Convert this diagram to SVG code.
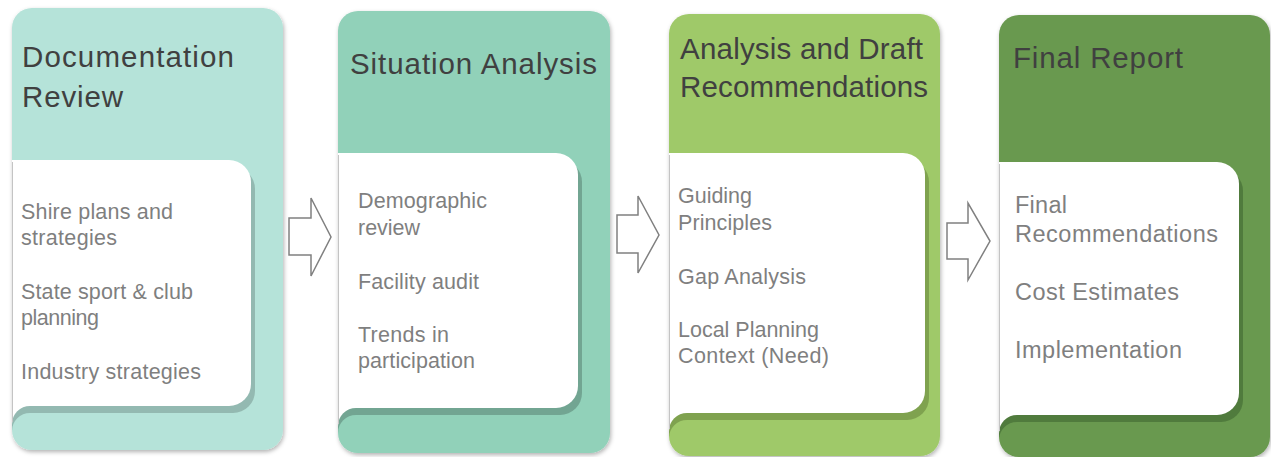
<svg xmlns="http://www.w3.org/2000/svg" width="1271" height="457" viewBox="0 0 1271 457">
  <defs>
    <filter id="soft" x="-10%" y="-10%" width="120%" height="120%">
      <feDropShadow dx="1" dy="2" stdDeviation="2" flood-color="#000" flood-opacity="0.3"/>
    </filter>
  </defs>
  <style>
    .title { font-family: "Liberation Sans", Arial, sans-serif; font-size: 29.5px; fill: #404040; }
    .item { font-family: "Liberation Sans", Arial, sans-serif; font-size: 21.5px; fill: #7f7f7f; }
    .item4 { font-family: "Liberation Sans", Arial, sans-serif; font-size: 23.5px; fill: #7f7f7f; }
    .card { fill: #ffffff; }
    .edge { stroke: #c4c4c4; stroke-width: 1; }
    .arrow { fill: #ffffff; stroke: #808080; stroke-width: 1.5; stroke-linejoin: miter; }
  </style>

  <rect width="1271" height="457" fill="#ffffff"/>

  <!-- Step 1 -->
  <g id="documentation-review">
    <rect x="12" y="8" width="271" height="442" rx="20" fill="#b5e3d9" filter="url(#soft)"/>
    <path d="M16,167 H233 A22,22 0 0 1 255,189 V391 A22,22 0 0 1 233,413 H16 Z" fill="#93b9b1"/>
    <rect x="12" y="398" width="30" height="26" class="card"/>
    <path d="M12,160 H229 A22,22 0 0 1 251,182 V384 A22,22 0 0 1 229,406 H12 Z" class="card"/>
    <path d="M12,424 A18,18 0 0 1 30,406 H220 V430 H12 Z" fill="#93b9b1"/>
    <path d="M12,431 A18,18 0 0 1 30,413 H250 V430 H12 Z" fill="#b5e3d9"/>
    <line x1="12.5" y1="162" x2="12.5" y2="422" class="edge"/>
    <text class="title" x="22" y="67" textLength="212" lengthAdjust="spacing">Documentation</text>
    <text class="title" x="22" y="107" textLength="101" lengthAdjust="spacing">Review</text>
    <text class="item" x="21" y="219" textLength="152" lengthAdjust="spacing">Shire plans and</text>
    <text class="item" x="21" y="245" textLength="96" lengthAdjust="spacing">strategies</text>
    <text class="item" x="21" y="299" textLength="172" lengthAdjust="spacing">State sport &amp; club</text>
    <text class="item" x="21" y="325" textLength="78" lengthAdjust="spacing">planning</text>
    <text class="item" x="21" y="379" textLength="180" lengthAdjust="spacing">Industry strategies</text>
  </g>

  <!-- Step 2 -->
  <g id="situation-analysis">
    <rect x="338" y="11" width="272" height="442" rx="20" fill="#91d1b9" filter="url(#soft)"/>
    <path d="M342,160 H560 A22,22 0 0 1 582,182 V393 A22,22 0 0 1 560,415 H342 Z" fill="#72a592"/>
    <rect x="338" y="400" width="30" height="26" class="card"/>
    <path d="M338,153 H556 A22,22 0 0 1 578,175 V386 A22,22 0 0 1 556,408 H338 Z" class="card"/>
    <path d="M338,426 A18,18 0 0 1 356,408 H546 V433 H338 Z" fill="#72a592"/>
    <path d="M338,433 A18,18 0 0 1 356,415 H577 V433 H338 Z" fill="#91d1b9"/>
    <line x1="338.5" y1="155" x2="338.5" y2="424" class="edge"/>
    <text class="title" x="350" y="74" textLength="247" lengthAdjust="spacing">Situation Analysis</text>
    <text class="item" x="358" y="208" textLength="129" lengthAdjust="spacing">Demographic</text>
    <text class="item" x="358" y="235" textLength="62" lengthAdjust="spacing">review</text>
    <text class="item" x="358" y="289" textLength="121" lengthAdjust="spacing">Facility audit</text>
    <text class="item" x="358" y="342" textLength="91" lengthAdjust="spacing">Trends in</text>
    <text class="item" x="358" y="368" textLength="117" lengthAdjust="spacing">participation</text>
  </g>

  <!-- Step 3 -->
  <g id="analysis-draft">
    <rect x="669" y="14" width="271" height="442" rx="20" fill="#9fc969" filter="url(#soft)"/>
    <path d="M673,160 H907 A22,22 0 0 1 929,182 V398 A22,22 0 0 1 907,420 H673 Z" fill="#7fa24f"/>
    <rect x="669" y="405" width="30" height="26" class="card"/>
    <path d="M669,153 H903 A22,22 0 0 1 925,175 V391 A22,22 0 0 1 903,413 H669 Z" class="card"/>
    <path d="M669,431 A18,18 0 0 1 687,413 H893 V436 H669 Z" fill="#7fa24f"/>
    <path d="M669,438 A18,18 0 0 1 687,420 H924 V436 H669 Z" fill="#9fc969"/>
    <line x1="669.5" y1="155" x2="669.5" y2="429" class="edge"/>
    <text class="title" x="680" y="59" textLength="243" lengthAdjust="spacing">Analysis and Draft</text>
    <text class="title" x="680" y="97" textLength="248" lengthAdjust="spacing">Recommendations</text>
    <text class="item" x="678" y="203" textLength="74" lengthAdjust="spacing">Guiding</text>
    <text class="item" x="678" y="230" textLength="94" lengthAdjust="spacing">Principles</text>
    <text class="item" x="678" y="284" textLength="128" lengthAdjust="spacing">Gap Analysis</text>
    <text class="item" x="678" y="337" textLength="141" lengthAdjust="spacing">Local Planning</text>
    <text class="item" x="678" y="363" textLength="151" lengthAdjust="spacing">Context (Need)</text>
  </g>

  <!-- Step 4 -->
  <g id="final-report">
    <rect x="999" y="15" width="271" height="442" rx="20" fill="#69994f" filter="url(#soft)"/>
    <path d="M1003,169 H1221 A22,22 0 0 1 1243,191 V400 A22,22 0 0 1 1221,422 H1003 Z" fill="#507b3d"/>
    <rect x="999" y="407" width="30" height="26" class="card"/>
    <path d="M999,162 H1217 A22,22 0 0 1 1239,184 V393 A22,22 0 0 1 1217,415 H999 Z" class="card"/>
    <path d="M999,433 A18,18 0 0 1 1017,415 H1207 V437 H999 Z" fill="#507b3d"/>
    <path d="M999,440 A18,18 0 0 1 1017,422 H1238 V437 H999 Z" fill="#69994f"/>
    <line x1="999.5" y1="164" x2="999.5" y2="431" class="edge"/>
    <text class="title" x="1013" y="68" textLength="170" lengthAdjust="spacing">Final Report</text>
    <text class="item4" x="1015" y="213" textLength="52" lengthAdjust="spacing">Final</text>
    <text class="item4" x="1015" y="242" textLength="203" lengthAdjust="spacing">Recommendations</text>
    <text class="item4" x="1015" y="300" textLength="164" lengthAdjust="spacing">Cost Estimates</text>
    <text class="item4" x="1015" y="358" textLength="167" lengthAdjust="spacing">Implementation</text>
  </g>

  <!-- Block arrows between steps -->
  <g id="connectors">
    <polygon class="arrow" points="289,218 311,218 311,198 331,237 311,276 311,255 289,255"/>
    <polygon class="arrow" points="617,215 638,215 638,196 659,235 638,273 638,253 617,253"/>
    <polygon class="arrow" points="947,223 968,223 968,203 990,241 968,280 968,259 947,259"/>
  </g>
</svg>
